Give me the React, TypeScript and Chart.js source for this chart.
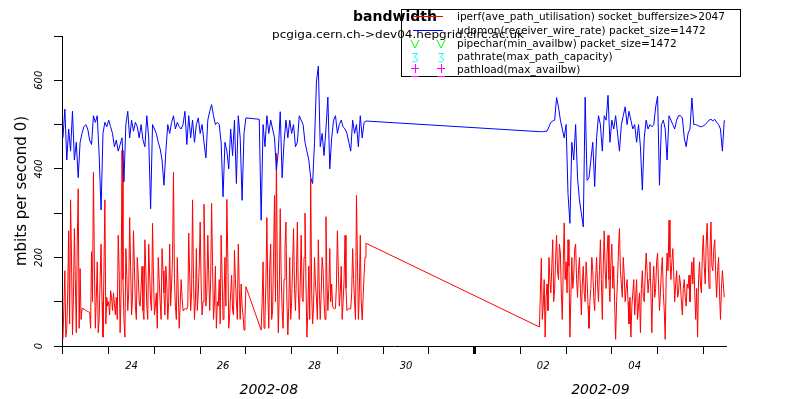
import React, { useEffect, useRef } from "react";
import { Chart, registerables } from "chart.js";

Chart.register(...registerables);

// udpmon measurement times, in hours since 2002-08-23 00:00
const udpmonHours = [
  0, 1, 2, 3, 4, 5, 6, 7, 8, 9, 10, 11, 12, 13, 14, 15, 16, 17, 18, 19,
  20, 21, 22, 23, 24, 25, 26, 27, 28, 29, 30, 31, 32, 33, 34, 35, 36, 37, 38, 39,
  40, 41, 42, 43, 44, 45, 46, 47, 48, 49, 50, 51, 52, 53, 54, 55, 56, 57, 58, 59,
  60, 61, 62, 63, 64, 65, 66, 67, 68, 69, 70, 71, 72, 73, 74, 75, 76, 77, 78, 79,
  80, 81, 82, 83, 84, 85, 86, 87, 88, 89, 90, 91, 92, 93, 94, 95, 96,
  103,
  104, 105, 106, 107, 108, 109, 110, 111, 112, 113, 114, 115, 116, 117, 118, 119,
  120, 121, 122, 123, 124, 125, 126, 127, 128, 129, 130, 131, 132, 133, 134, 135,
  136, 137, 138, 139, 140, 141, 142, 143, 144, 145, 146, 147, 148, 149, 150, 151,
  152, 153, 154, 155, 156, 157, 158, 159,
  250, 251, 252, 253, 254, 255, 256, 257, 258, 259, 260, 261, 262, 263, 264, 265,
  266, 267, 268, 269, 270, 271, 272, 273, 274, 275, 276, 277, 278, 279, 280, 281,
  282, 283, 284, 285, 286, 287, 288, 289, 290, 291, 292, 293, 294, 295, 296, 297,
  298, 299, 300, 301, 302, 303, 304, 305, 306, 307, 308, 309, 310, 311, 312, 313,
  314, 315, 316, 317, 318, 319, 320, 321, 322, 323, 324, 325, 326, 327, 328, 329,
  330, 331, 332, 333, 334, 335, 336, 337, 338, 339, 340, 341, 342, 343, 344, 345,
  346, 347,
];

// udpmon(receiver_wire_rate) packet_size=1472  (blue), Mbit/s
const udpmonMbps = [
  470, 535, 420, 490, 440, 530, 420, 460, 380, 460, 480, 495, 500, 490, 465,
  455, 520, 505, 520, 430, 307, 480, 505, 495,
  510, 495, 480, 450, 465,
  440, 455, 470, 371, 500, 530, 470, 510, 485, 505, 495, 470,
  500, 465, 450, 520, 470, 310, 500, 490, 480, 460,
  445, 420, 363, 440, 500, 480, 505, 520, 490, 505,
  495, 490, 500, 530, 455, 520, 470, 510, 460, 500,
  515, 480, 500, 460, 425, 510, 530, 545, 520, 500, 505,
  500, 460, 337, 460, 440, 400, 490, 430, 510, 367, 520, 470, 329, 480, 515,
  512,
  284, 500, 450, 520, 480, 510, 490, 470, 397, 440,
  529, 380, 460, 510, 470, 510, 480, 500, 450, 460,
  520, 510, 500, 460, 440, 420, 380, 367, 460, 596,
  632, 450, 480, 430, 490, 562, 400, 470, 510, 520,
  480, 500, 510, 495, 490, 480, 460, 440, 510, 480,
  500, 450, 520, 470, 505, 508,
  484, 484, 484, 485, 485, 495, 505, 508, 510, 561,
  540, 510, 490, 470, 500, 344, 277, 460, 420, 500,
  380, 330, 300, 269, 562, 374, 380, 420, 460, 360,
  470, 520, 500, 440, 520, 510, 566, 460, 510, 490,
  520, 480, 440, 500, 520, 540, 500, 530, 510, 490,
  500, 460, 500, 450, 352, 470, 510, 490, 500, 495,
  500, 540, 564, 363, 500, 510, 490, 420, 520, 510,
  500, 490, 510, 520, 520, 515, 470, 450, 480, 490,
  560, 500, 500, 498, 496, 495, 497, 500, 505, 510,
  512, 508, 512, 505, 500, 490, 440, 510,
];

// iperf measurement times, in hours since 2002-08-23 00:00
const iperfHours = [
  0, 0.5, 1, 1.5, 2, 2.5, 3, 3.5, 4, 4.5, 5, 5.5, 6, 6.5, 7, 7.5, 8, 8.5, 9, 9.5,
  10, 10.5, 11, 11.5, 12, 12.5, 13, 13.5, 14, 14.5, 15, 15.5, 16, 16.5, 17, 17.5, 18, 18.5, 19, 19.5,
  20, 20.5, 21, 21.5, 22, 22.5, 23, 23.5, 24, 24.5, 25, 25.5, 26, 26.5, 27, 27.5, 28, 28.5, 29, 29.5,
  30, 30.5, 31, 31.5, 32, 32.5, 33, 33.5, 34, 34.5, 35, 35.5, 36, 36.5, 37, 37.5, 38, 38.5, 39, 39.5,
  40, 40.5, 41, 41.5, 42, 42.5, 43, 43.5, 44, 44.5, 45, 45.5, 46, 46.5, 47, 47.5, 48, 48.5, 49, 49.5,
  50, 50.5, 51, 51.5, 52, 52.5, 53, 53.5, 54, 54.5, 55, 55.5, 56, 56.5, 57, 57.5, 58, 58.5, 59, 59.5,
  60, 60.5, 61, 61.5, 62, 62.5, 63, 63.5, 64, 64.5, 65, 65.5, 66, 66.5, 67, 67.5, 68, 68.5, 69, 69.5,
  70, 70.5, 71, 71.5, 72, 72.5, 73, 73.5, 74, 74.5, 75, 75.5, 76, 76.5, 77, 77.5, 78, 78.5, 79, 79.5,
  80, 80.5, 81, 81.5, 82, 82.5, 83, 83.5, 84, 84.5, 85, 85.5, 86, 86.5, 87, 87.5, 88, 88.5, 89, 89.5,
  90, 90.5, 91, 91.5, 92, 92.5, 93, 93.5, 94, 94.5, 95, 95.5, 96,
  104, 104.5, 105, 105.5, 106, 106.5, 107, 107.5, 108, 108.5, 109, 109.5, 110, 110.5, 111, 111.5, 112, 112.5, 113, 113.5,
  114, 114.5, 115, 115.5, 116, 116.5, 117, 117.5, 118, 118.5, 119, 119.5, 120, 120.5, 121, 121.5, 122, 122.5, 123, 123.5,
  124, 124.5, 125, 125.5, 126, 126.5, 127, 127.5, 128, 128.5, 129, 129.5, 130, 130.5, 131, 131.5, 132, 132.5, 133, 133.5,
  134, 134.5, 135, 135.5, 136, 136.5, 137, 137.5, 138, 138.5, 139, 139.5, 140, 140.5, 141, 141.5, 142, 142.5, 143, 143.5,
  144, 144.5, 145, 145.5, 146, 146.5, 147, 147.5, 148, 148.5, 149, 149.5, 150, 150.5, 151, 151.5, 152, 152.5, 153, 153.5,
  154, 154.5, 155, 155.5, 156, 156.5, 157, 157.5, 158, 158.5, 159,
  250, 250.5, 251, 251.5, 252, 252.5, 253, 253.5, 254, 254.5, 255, 255.5, 256, 256.5, 257, 257.5, 258, 258.5, 259, 259.5,
  260, 260.5, 261, 261.5, 262, 262.5, 263, 263.5, 264, 264.5, 265, 265.5, 266, 266.5, 267, 267.5, 268, 268.5, 269, 269.5,
  270, 270.5, 271, 271.5, 272, 272.5, 273, 273.5, 274, 274.5, 275, 275.5, 276, 276.5, 277, 277.5, 278, 278.5, 279, 279.5,
  280, 280.5, 281, 281.5, 282, 282.5, 283, 283.5, 284, 284.5, 285, 285.5, 286, 286.5, 287, 287.5, 288, 288.5, 289, 289.5,
  290, 290.5, 291, 291.5, 292, 292.5, 293, 293.5, 294, 294.5, 295, 295.5, 296, 296.5, 297, 297.5, 298, 298.5, 299, 299.5,
  300, 300.5, 301, 301.5, 302, 302.5, 303, 303.5, 304, 304.5, 305, 305.5, 306, 306.5, 307, 307.5, 308, 308.5, 309, 309.5,
  310, 310.5, 311, 311.5, 312, 312.5, 313, 313.5, 314, 314.5, 315, 315.5, 316, 316.5, 317, 317.5, 318, 318.5, 319, 319.5,
  320, 320.5, 321, 321.5, 322, 322.5, 323, 323.5, 324, 324.5, 325, 325.5, 326, 326.5, 327, 327.5, 328, 328.5, 329, 329.5,
  330, 330.5, 331, 331.5, 332, 332.5, 333, 333.5, 334, 334.5, 335, 335.5, 336, 336.5, 337, 337.5, 338, 338.5, 339, 339.5,
  340, 340.5, 341, 341.5, 342, 342.5, 343, 343.5, 344, 344.5, 345, 345.5, 346, 346.5, 347,
];

// iperf(ave_path_utilisation) socket_buffersize>2047  (red), Mbit/s
const iperfMbps = [
  15, 90, 170, 20, 40, 120, 260, 50, 330, 200, 25, 110, 265, 150, 30, 230, 355, 40, 175, 60,
  85, 84, 83, 82, 80, 79, 78, 77, 76, 40, 213, 100, 392, 180, 40, 110, 190, 30, 60, 150,
  230, 100, 20, 170, 330, 50, 110, 90, 100, 70, 125, 110, 80, 120, 95, 70, 110, 60, 250, 170,
  30, 120, 442, 150, 60, 20, 220, 160, 80, 120, 290, 180, 70, 110, 260, 180, 90, 60, 200, 160,
  100, 90, 130, 180, 80, 60, 240, 170, 90, 60, 230, 160, 100, 80, 277, 160, 70, 90, 120, 40,
  200, 150, 100, 60, 220, 170, 120, 70, 180, 140, 60, 100, 230, 90, 140, 200, 392, 150, 90, 60,
  200, 120, 40, 90, 150, 110, 80, 82, 85, 84, 83, 90, 255, 160, 80, 120, 330, 150, 60, 100,
  220, 80, 120, 180, 280, 140, 70, 100, 320, 200, 90, 120, 250, 160, 80, 150, 322, 180, 60, 100,
  180, 40, 100, 90, 150, 50, 250, 160, 60, 100, 200, 90, 331, 200, 40, 70, 120, 160, 80, 70,
  216, 150, 100, 60, 230, 130, 60, 140, 90, 70, 36, 60, 134,
  36, 100, 190, 40, 60, 150, 290, 120, 40, 180, 230, 60, 80, 200, 340, 100, 435, 150, 30, 120,
  310, 160, 80, 40, 150, 220, 280, 100, 25, 90, 200, 60, 100, 180, 265, 130, 80, 160, 280, 120,
  60, 140, 250, 110, 100, 200, 300, 150, 20, 80, 180, 60, 378, 120, 50, 90, 200, 140, 110, 60,
  240, 130, 60, 120, 200, 170, 100, 60, 292, 150, 80, 130, 220, 100, 140, 90, 85, 84, 85, 140,
  260, 170, 90, 120, 180, 60, 100, 150, 250, 130, 80, 82, 85, 84, 84, 120, 220, 150, 100, 60,
  340, 200, 60, 120, 250, 100, 59, 110, 160, 200, 232,
  43, 120, 198, 60, 90, 150, 20, 110, 140, 80, 200, 150, 120, 180, 240, 100, 130, 200, 250, 170,
  150, 230, 210, 120, 60, 180, 278, 150, 190, 120, 240, 180, 20, 110, 200, 130, 160, 220, 230, 150,
  110, 170, 200, 130, 70, 140, 180, 120, 100, 190, 150, 90, 40, 100, 130, 200, 170, 110, 80, 150,
  200, 140, 100, 170, 240, 150, 60, 180, 260, 170, 130, 210, 250, 150, 100, 190, 230, 130, 180, 90,
  15, 100, 150, 220, 265, 170, 140, 110, 200, 160, 100, 130, 150, 100, 50, 110, 20, 90, 120, 150,
  70, 110, 150, 60, 90, 120, 30, 130, 170, 110, 100, 160, 210, 170, 120, 150, 190, 120, 30, 140,
  180, 110, 130, 190, 210, 140, 80, 120, 170, 200, 120, 80, 15, 150, 210, 170, 284, 200, 150, 190,
  220, 160, 100, 140, 170, 110, 120, 160, 140, 100, 70, 130, 150, 110, 90, 140, 130, 160, 100, 150,
  190, 140, 200, 120, 60, 130, 20, 150, 190, 140, 120, 210, 250, 180, 140, 230, 277, 200, 130, 220,
  280, 180, 170, 220, 240, 160, 110, 170, 200, 120, 60, 130, 170, 140, 110,
];

const dayTickHours = [0, 24, 48, 72, 96, 120, 144, 168, 192, 216, 240, 264, 288, 312, 336];
const monthStartHour = 216;
const dayLabelHours = [36, 84, 132, 180, 252, 300];
const dayLabels = ["24", "26", "28", "30", "02", "04"];
const monthLabelHours = [108, 282];
const monthLabels = ["2002-08", "2002-09"];
const yLabelledTicks = [0, 200, 400, 600];

const chartTitle = "bandwidth";
const chartSubtitle = "pcgiga.cern.ch->dev04.hepgrid.clrc.ac.uk";
const yAxisTitle = "mbits per second 0)";
const legendLabels = [
  "iperf(ave_path_utilisation) socket_buffersize>2047",
  "udpmon(receiver_wire_rate) packet_size=1472",
  "pipechar(min_availbw) packet_size=1472",
  "pathrate(max_path_capacity)",
  "pathload(max_availbw)",
];
const legendColors = ["#ff0000", "#0000ff", "#00ff00", "#00ffff", "#ff00ff"];

const FONT = "'DejaVu Sans', sans-serif";
const X_MIN = -0.5;
const X_MAX = 347.9;

const overlayPlugin = {
  id: "overlay",
  afterDraw(chart: any) {
    const ctx = chart.ctx as CanvasRenderingContext2D;
    ctx.save();
    ctx.fillStyle = "#000";
    ctx.textAlign = "center";
    ctx.textBaseline = "middle";
    ctx.font = `bold 14px ${FONT}`;
    ctx.fillText(chartTitle, 395, 17);

    ctx.font = `11px ${FONT}`;
    ctx.textAlign = "left";
    const sw = 252 / ctx.measureText(chartSubtitle).width;
    ctx.save();
    ctx.translate(272, 35);
    ctx.scale(sw, 1);
    ctx.fillText(chartSubtitle, 0, 0);
    ctx.restore();

    // legend box (transparent)
    ctx.strokeStyle = "#000";
    ctx.lineWidth = 1;
    ctx.strokeRect(401.5, 9.5, 339, 67);

    const rowY = [17.5, 31.5, 44.5, 57.5, 70.5];
    ctx.font = `11px ${FONT}`;
    const s = 268 / ctx.measureText(legendLabels[0]).width;
    legendLabels.forEach((label, i) => {
      ctx.save();
      ctx.translate(457, rowY[i]);
      ctx.scale(s, 1);
      ctx.fillText(label, 0, 0);
      ctx.restore();
    });

    const mx = [415, 441];
    ctx.lineWidth = 1;
    ctx.strokeStyle = legendColors[0];
    ctx.beginPath();
    ctx.moveTo(413, 16.5);
    ctx.lineTo(443, 16.5);
    ctx.stroke();
    ctx.strokeStyle = legendColors[1];
    ctx.beginPath();
    ctx.moveTo(413, 30.5);
    ctx.lineTo(443, 30.5);
    ctx.stroke();
    ctx.strokeStyle = legendColors[2];
    mx.forEach((x) => {
      ctx.beginPath();
      ctx.moveTo(x - 4, 40);
      ctx.lineTo(x, 48);
      ctx.lineTo(x + 4, 40);
      ctx.stroke();
    });
    ctx.strokeStyle = legendColors[3];
    mx.forEach((x) => {
      ctx.beginPath();
      ctx.moveTo(x - 2.5, 53.5);
      ctx.lineTo(x + 2.5, 53.5);
      ctx.lineTo(x - 0.5, 57);
      ctx.lineTo(x + 2.5, 59);
      ctx.lineTo(x + 2.5, 60.5);
      ctx.lineTo(x + 0.5, 62);
      ctx.lineTo(x - 2.5, 61.5);
      ctx.stroke();
    });
    ctx.strokeStyle = legendColors[4];
    mx.forEach((x) => {
      ctx.beginPath();
      ctx.moveTo(x - 4, 68.5);
      ctx.lineTo(x + 4, 68.5);
      ctx.moveTo(x + 0.5, 64);
      ctx.lineTo(x + 0.5, 73);
      ctx.moveTo(x - 4, 76.5);
      ctx.lineTo(x + 4, 76.5);
      ctx.stroke();
    });
    ctx.restore();
  },
};

export default function App() {
  const canvasRef = useRef<HTMLCanvasElement | null>(null);

  useEffect(() => {
    const canvas = canvasRef.current;
    if (!canvas) return;
    const chart = new Chart(canvas, {
      type: "line",
      data: {
        datasets: [
          {
            label: legendLabels[1],
            data: udpmonHours.map((h, i) => ({ x: h, y: udpmonMbps[i] })),
            borderColor: legendColors[1],
            borderWidth: 1,
            pointRadius: 0,
            tension: 0,
            xAxisID: "x",
            yAxisID: "y",
          },
          {
            label: legendLabels[0],
            data: iperfHours.map((h, i) => ({ x: h, y: iperfMbps[i] })),
            borderColor: legendColors[0],
            borderWidth: 1,
            pointRadius: 0,
            tension: 0,
            xAxisID: "x",
            yAxisID: "y",
          },
        ],
      },
      options: {
        responsive: false,
        maintainAspectRatio: false,
        animation: false,
        devicePixelRatio: 1,
        events: [],
        layout: { padding: { left: 0, right: 62, top: 36, bottom: 0 } },
        plugins: {
          legend: { display: false },
          title: { display: false },
          tooltip: { enabled: false },
        },
        scales: {
          x: {
            type: "linear",
            position: "bottom",
            min: X_MIN,
            max: X_MAX,
            weight: 0,
            afterBuildTicks: (s: any) => {
              s.ticks = dayTickHours.map((v) => ({ value: v }));
            },
            afterFit: (s: any) => {
              s.height = 10;
            },
            grid: {
              drawOnChartArea: false,
              drawTicks: true,
              tickLength: 8,
              color: "#000",
              lineWidth: (c: any) => (c.tick && c.tick.value === monthStartHour ? 3 : 1),
            },
            border: { display: true, color: "#000", width: 1 },
            ticks: { display: false },
          },
          xDays: {
            type: "linear",
            position: "bottom",
            min: X_MIN,
            max: X_MAX,
            weight: 1,
            afterBuildTicks: (s: any) => {
              s.ticks = dayLabelHours.map((v) => ({ value: v }));
            },
            afterFit: (s: any) => {
              s.height = 22;
            },
            grid: { display: false, drawTicks: false },
            border: { display: false },
            ticks: {
              autoSkip: false,
              maxRotation: 0,
              minRotation: 0,
              padding: 4,
              color: "#000",
              font: { family: FONT, style: "italic", size: 10 },
              callback: (_v: any, i: number) => dayLabels[i],
            },
          },
          xMonths: {
            type: "linear",
            position: "bottom",
            min: X_MIN,
            max: X_MAX,
            weight: 2,
            afterBuildTicks: (s: any) => {
              s.ticks = monthLabelHours.map((v) => ({ value: v }));
            },
            afterFit: (s: any) => {
              s.height = 21;
            },
            grid: { display: false, drawTicks: false },
            border: { display: false },
            ticks: {
              autoSkip: false,
              maxRotation: 0,
              minRotation: 0,
              padding: 4,
              color: "#000",
              font: { family: FONT, style: "italic", size: 14 },
              callback: (_v: any, i: number) => monthLabels[i],
            },
          },
          y: {
            type: "linear",
            position: "left",
            min: 0,
            max: 700,
            afterFit: (s: any) => {
              s.width = 62;
            },
            grid: { drawOnChartArea: false, drawTicks: true, tickLength: 8, color: "#000" },
            border: { display: true, color: "#000", width: 1 },
            ticks: {
              stepSize: 100,
              autoSkip: false,
              minRotation: 90,
              maxRotation: 90,
              crossAlign: "center",
              padding: 5,
              color: "#000",
              font: { family: FONT, style: "italic", size: 10 },
              callback: (v: any) => (yLabelledTicks.includes(Number(v)) ? String(v) : ""),
            },
            title: {
              display: true,
              text: yAxisTitle,
              color: "#000",
              font: { family: FONT, size: 15 },
              padding: { top: 13, bottom: 0 },
            },
          },
        },
      } as any,
      plugins: [overlayPlugin],
    });
    return () => chart.destroy();
  }, []);

  return (
    <div style={{ position: "fixed", left: 0, top: 0, width: 788, height: 399, background: "#fff" }}>
      <canvas ref={canvasRef} width={788} height={399} style={{ display: "block" }} />
    </div>
  );
}
